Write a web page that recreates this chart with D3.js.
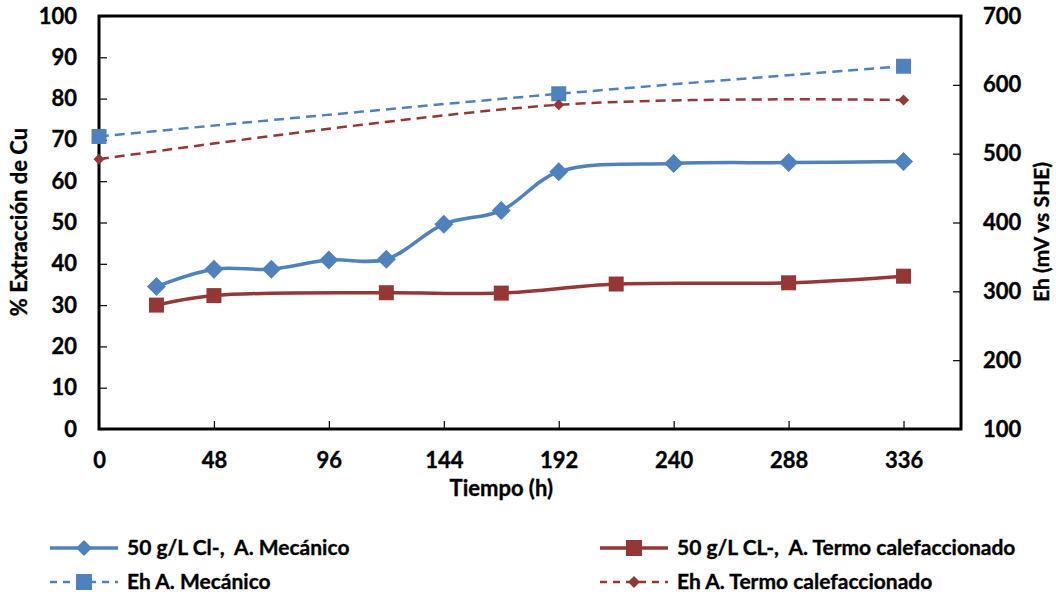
<!DOCTYPE html>
<html>
<head>
<meta charset="utf-8">
<script src="https://cdn.jsdelivr.net/npm/d3@7"></script>
<style>
  html, body { margin: 0; padding: 0; background: #fff; }
  svg { display: block; font-family: Lato, "Open Sans", sans-serif; font-weight: bold; }
  text { white-space: pre; stroke: #000; stroke-width: 0.35px; }
</style>
</head>
<body>
<svg id="chart" width="1056" height="596"></svg>
<script>
// Copper extraction (%) vs time, and redox potential Eh (mV vs SHE)
const timeTicks = [0, 48, 96, 144, 192, 240, 288, 336];
const leftTicks = [0, 10, 20, 30, 40, 50, 60, 70, 80, 90, 100];
const rightTicks = [100, 200, 300, 400, 500, 600, 700];

const mecTime = [24, 48, 72, 96, 120, 144, 168, 192, 240, 288, 336];
const mecExtraction = [34.5, 38.7, 38.7, 40.9, 41.1, 49.6, 52.9, 62.3, 64.3, 64.5, 64.8];

const termTime = [24, 48, 120, 168, 216, 288, 336];
const termExtraction = [30.0, 32.3, 33.0, 32.9, 35.1, 35.4, 37.0];

const ehTime = [0, 192, 336];
const ehMec = [525, 587, 627];
const ehTerm = [492, 571, 578];

const legendLabels = [
  "50 g/L Cl-,  A. Mecánico",
  "50 g/L CL-,  A. Termo calefaccionado",
  "Eh A. Mecánico",
  "Eh A. Termo calefaccionado"
];

const BLUE = "#4F81BD", RED = "#953735";

const svg = d3.select("#chart");
const plot = { left: 99, top: 16, right: 961, bottom: 429 };

const x = d3.scaleLinear().domain([0, 360]).range([plot.left, plot.right]);
const yL = d3.scaleLinear().domain([0, 100]).range([plot.bottom, plot.top]);
const yR = d3.scaleLinear().domain([100, 700]).range([plot.bottom, plot.top]);

const curve = d3.curveCatmullRom.alpha(0.5);

// axes (ticks point into the plot)
const axL = svg.append("g").attr("transform", `translate(${plot.left},0)`)
  .call(d3.axisLeft(yL).tickValues(leftTicks).tickSizeInner(-8).tickSizeOuter(0).tickPadding(22));
const axR = svg.append("g").attr("transform", `translate(${plot.right},0)`)
  .call(d3.axisRight(yR).tickValues(rightTicks).tickSizeInner(-8).tickSizeOuter(0).tickPadding(22));
const axB = svg.append("g").attr("transform", `translate(0,${plot.bottom})`)
  .call(d3.axisBottom(x).tickValues(timeTicks).tickSizeInner(-8).tickSizeOuter(0).tickPadding(23));

[axL, axR, axB].forEach(a => {
  a.select(".domain").remove();
  a.selectAll(".tick line").attr("stroke", "#000").attr("stroke-width", 1.2);
  a.selectAll(".tick text").attr("fill", "#000").style("font-size", "22px")
    .style("font-family", "Lato, 'Open Sans', sans-serif").style("font-weight", "bold");
});

// frame
svg.append("rect")
  .attr("x", plot.left).attr("y", plot.top)
  .attr("width", plot.right - plot.left).attr("height", plot.bottom - plot.top)
  .attr("fill", "none").attr("stroke", "#000").attr("stroke-width", 3);

// axis titles
svg.append("text").attr("x", x(168)).attr("y", 496).attr("text-anchor", "middle")
  .style("font-size", "22px").text("Tiempo (h)");
svg.append("text").attr("transform", `translate(19,222) rotate(-90)`).attr("text-anchor", "middle")
  .attr("dy", "0.35em").style("font-size", "22px").text("% Extracción de Cu");
svg.append("text").attr("transform", `translate(1042,232) rotate(-90)`).attr("text-anchor", "middle")
  .attr("dy", "0.35em").style("font-size", "21px").text("Eh (mV vs SHE)");

// markers
const diamond = (s) => `M0,${-s}L${s},0L0,${s}L${-s},0Z`;
const square = (s) => `M${-s},${-s}H${s}V${s}H${-s}Z`;

function series(xs, ys, yScale, color, width, dash, markerPath) {
  const pts = xs.map((t, i) => [x(t), yScale(ys[i])]);
  svg.append("path")
    .attr("d", d3.line().curve(curve)(pts))
    .attr("fill", "none").attr("stroke", color).attr("stroke-width", width)
    .attr("stroke-dasharray", dash);
  svg.append("g").selectAll("path").data(pts).join("path")
    .attr("transform", d => `translate(${d[0]},${d[1]})`)
    .attr("d", markerPath).attr("fill", color);
}

series(ehTime, ehMec, yR, BLUE, 2.5, "10,6", square(7.5));
series(ehTime, ehTerm, yR, RED, 2.5, "10,6", diamond(5.5));
series(mecTime, mecExtraction, yL, BLUE, 3.5, null, diamond(9.5));
series(termTime, termExtraction, yL, RED, 3.5, null, square(7.5));

// legend
const legend = [
  { x: 50, y: 548, color: BLUE, width: 3.5, dash: null, marker: diamond(8), label: legendLabels[0] },
  { x: 600, y: 548, color: RED, width: 3.5, dash: null, marker: square(8), label: legendLabels[1] },
  { x: 50, y: 582, color: BLUE, width: 2.5, dash: "7,6", marker: square(8), label: legendLabels[2] },
  { x: 600, y: 582, color: RED, width: 2.5, dash: "7,6", marker: diamond(6), label: legendLabels[3] }
];
legend.forEach(l => {
  const g = svg.append("g").attr("transform", `translate(${l.x},${l.y})`);
  g.append("line").attr("x1", 0).attr("x2", 68).attr("y1", 0).attr("y2", 0)
    .attr("stroke", l.color).attr("stroke-width", l.width).attr("stroke-dasharray", l.dash);
  g.append("path").attr("transform", "translate(34,0)").attr("d", l.marker).attr("fill", l.color);
  g.append("text").attr("x", 77).attr("y", 7).style("font-size", "21px").text(l.label);
});
</script>
</body>
</html>
